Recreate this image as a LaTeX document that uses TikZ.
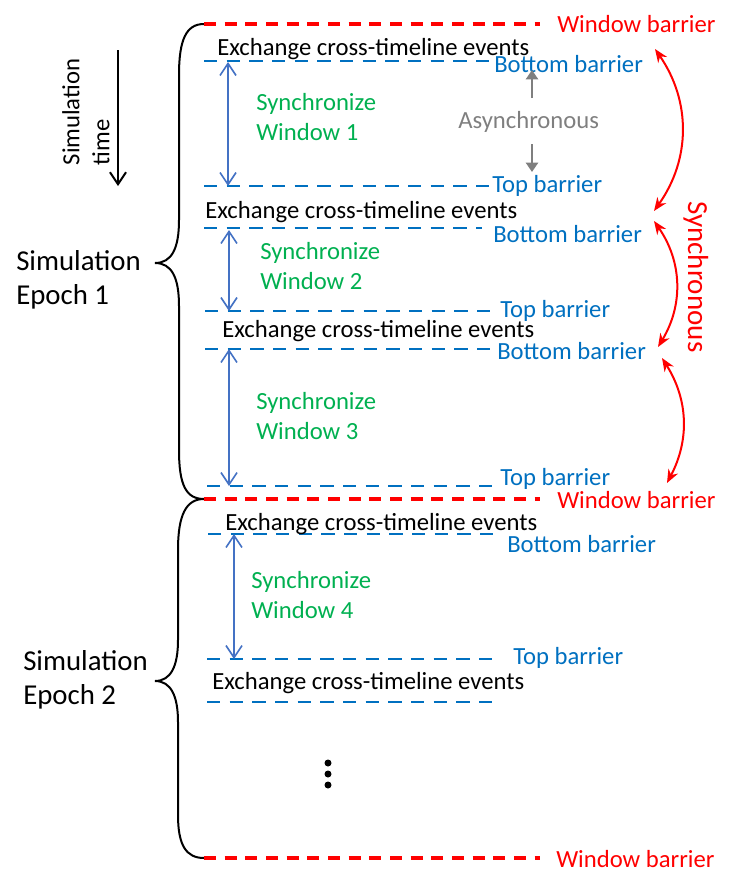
\documentclass[tikz,border=0pt]{standalone}
\usepackage{fontspec}
\setmainfont{Carlito}
\usetikzlibrary{arrows.meta}
\definecolor{barblue}{HTML}{0070C0}
\definecolor{arrblue}{HTML}{4472C4}
\definecolor{syncgreen}{HTML}{00B050}
\definecolor{asyncgray}{HTML}{7F7F7F}
\begin{document}
\begin{tikzpicture}[x=0.75pt,y=-0.75pt,
  font=\fontsize{18.5}{22.5}\selectfont,
  txt/.style={anchor=base west,inner sep=0pt},
  blab/.style={txt,text=barblue},
  wlab/.style={txt,text=red},
  sync/.style={anchor=west,align=left,inner sep=0pt,text=syncgreen},
  epoch/.style={anchor=west,align=left,inner sep=0pt,font=\fontsize{21.6}{25.5}\selectfont},
  bline/.style={barblue,line width=1.7pt,dash pattern=on 10pt off 7pt},
  wline/.style={red,line width=2.4pt,dash pattern=on 9pt off 6.5pt},
  warr/.style={arrblue,line width=1.2pt,{Straight Barb[length=9pt,width=12pt]}-{Straight Barb[length=9pt,width=12pt]}},
  rarr/.style={red,line width=1.5pt,{Stealth[length=10pt,width=8pt]}-{Stealth[length=10pt,width=8pt]}},
  garr/.style={asyncgray,line width=1.8pt,-{Triangle[length=7pt,width=9pt]}}]
  \useasboundingbox (0,0) rectangle (741,889);

  % time direction
  \node[rotate=90,align=left,inner sep=0pt] (simtime) at (86,112) {Simulation\\time};
  \coordinate (tt) at (118,50);
  \coordinate (tb) at (118,186);
  \draw[line width=1.5pt,-{Straight Barb[length=9pt,width=12pt]}] (tt) -- (tb);

  % braces and epochs
  \draw[line width=1.5pt] (204,24) .. controls (186,24) and (179,40) .. (179,75) -- (179,220)
    .. controls (179,248) and (172,263) .. (155,263) .. controls (172,263) and (179,278) .. (179,306)
    -- (179,450) .. controls (179,485) and (186,499) .. (204,499);
  \draw[line width=1.5pt] (204,499) .. controls (186,499) and (178,515) .. (178,550) -- (178,640)
    .. controls (178,666) and (171,681) .. (155,681) .. controls (171,681) and (178,696) .. (178,722)
    -- (178,815) .. controls (178,845) and (186,858) .. (204,858);
  \node[epoch] (ep1) at (16,280) {Simulation\\Epoch 1};
  \node[epoch] (ep2) at (23,680) {Simulation\\Epoch 2};

  % window barriers
  \draw[wline] (204,24) -- (540,24);
  \draw[wline] (204,499) -- (540,499);
  \draw[wline] (204,858) -- (540,858);
  \node[wlab] (wb1) at (557,32) {Window barrier};
  \node[wlab] (wb2) at (557,508) {Window barrier};
  \node[wlab] (wb3) at (556,867) {Window barrier};

  % top and bottom barriers
  \draw[bline] (204,61) -- (490,61);
  \draw[bline] (204,186) -- (490,186);
  \draw[bline] (204,228) -- (482,228);
  \draw[bline] (205,311) -- (495,311);
  \draw[bline] (205,349) -- (497,349);
  \draw[bline] (207,486) -- (498,486);
  \draw[bline] (208,534) -- (496,534);
  \draw[bline] (207,659) -- (496,659);
  \draw[bline] (207,702) -- (494,702);
  \node[blab] (bb1) at (494,72) {Bottom barrier};
  \node[blab] (tb1) at (492,192) {Top barrier};
  \node[blab] (bb2) at (493,242) {Bottom barrier};
  \node[blab] (tb2) at (500,317) {Top barrier};
  \node[blab] (bb3) at (497,359) {Bottom barrier};
  \node[blab] (tb3) at (500,485) {Top barrier};
  \node[blab] (bb4) at (507,552) {Bottom barrier};
  \node[blab] (tb4) at (513,664) {Top barrier};

  % exchange phases
  \node[txt] (ex1) at (217,55) {Exchange cross-timeline events};
  \node[txt] (ex2) at (205,218) {Exchange cross-timeline events};
  \node[txt] (ex3) at (222,337) {Exchange cross-timeline events};
  \node[txt] (ex4) at (225,530) {Exchange cross-timeline events};
  \node[txt] (ex5) at (212,689) {Exchange cross-timeline events};

  % windows
  \coordinate (s1a) at (228,62);  \coordinate (s1b) at (228,186);
  \coordinate (s2a) at (229,230); \coordinate (s2b) at (229,311);
  \coordinate (s3a) at (229,349); \coordinate (s3b) at (229,486);
  \coordinate (s4a) at (234,534); \coordinate (s4b) at (234,659);
  \draw[warr] (s1a) -- (s1b);
  \draw[warr] (s2a) -- (s2b);
  \draw[warr] (s3a) -- (s3b);
  \draw[warr] (s4a) -- (s4b);
  \node[sync] (sw1) at (256,117) {Synchronize\\Window 1};
  \node[sync] (sw2) at (260,266) {Synchronize\\Window 2};
  \node[sync] (sw3) at (256,416) {Synchronize\\Window 3};
  \node[sync] (sw4) at (251,595) {Synchronize\\Window 4};

  % asynchronous
  \node[txt,text=asyncgray] (async) at (458,128) {Asynchronous};
  \coordinate (au0) at (532,98);  \coordinate (au1) at (532,70);
  \coordinate (ad0) at (532,144); \coordinate (ad1) at (532,172);
  \draw[garr] (au0) -- (au1);
  \draw[garr] (ad0) -- (ad1);

  % synchronous
  \node[txt,text=red,rotate=-90,font=\fontsize{21.8}{26}\selectfont] (syncl) at (688,201) {Synchronous};
  \coordinate (r1a) at (655,49);  \coordinate (r1b) at (654,211);
  \coordinate (r2a) at (654,221); \coordinate (r2b) at (658,347);
  \coordinate (r3a) at (662,358); \coordinate (r3b) at (667,483);
  \draw[rarr] (r1a) to[bend left=35] (r1b);
  \draw[rarr] (r2a) to[bend left=33] (r2b);
  \draw[rarr] (r3a) to[bend left=30] (r3b);

  % more windows
  \fill (328,763) circle (3.5) (328,774) circle (3.5) (328,785) circle (3.5);
\end{tikzpicture}
\end{document}
